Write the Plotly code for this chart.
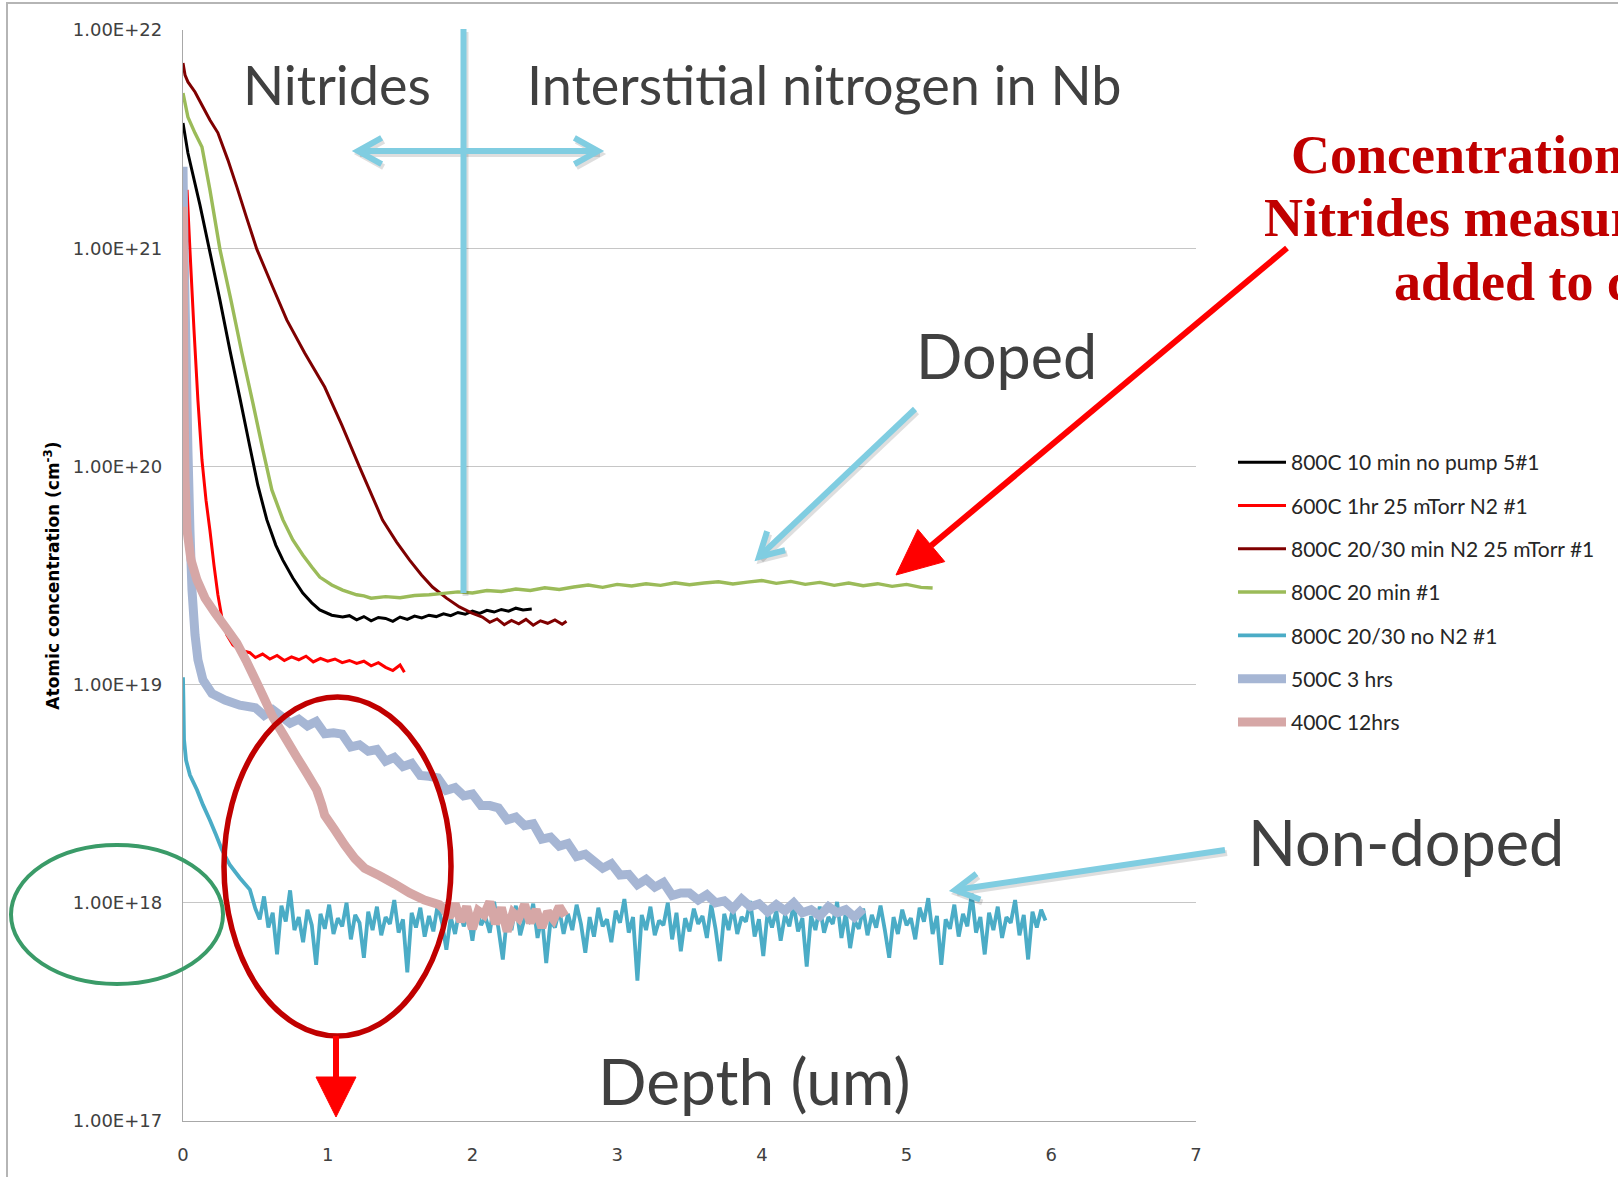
import math
import plotly.graph_objects as go

# ---------------- data (depth in um, atomic concentration in cm^-3) ----------------
black_x = [0.000, 0.034, 0.117, 0.186, 0.255, 0.324, 0.393, 0.462, 0.517, 0.579,
           0.641, 0.690, 0.759, 0.828, 0.890, 0.945, 1.028, 1.103,
           1.15, 1.20, 1.25, 1.30, 1.35, 1.40, 1.45, 1.50, 1.55, 1.60, 1.65, 1.70, 1.75,
           1.80, 1.85, 1.90, 1.95, 2.00, 2.05, 2.10, 2.15, 2.20, 2.25, 2.30, 2.35, 2.41]
black_y = [3.75e21, 2.73e21, 1.58e21, 9.6e20, 5.8e20, 3.41e20, 2.06e20, 1.23e20, 8.2e19, 5.7e19,
           4.36e19, 3.72e19, 3.08e19, 2.63e19, 2.37e19, 2.20e19, 2.08e19, 2.04e19,
           2.07e19, 1.98e19, 2.05e19, 1.96e19, 2.03e19, 2.01e19, 1.95e19, 2.04e19, 1.99e19, 2.06e19,
           2.02e19, 2.08e19, 2.05e19, 2.11e19, 2.07e19, 2.14e19, 2.10e19, 2.17e19, 2.12e19, 2.19e19,
           2.15e19, 2.21e19, 2.17e19, 2.24e19, 2.20e19, 2.22e19]

red_x = [0.028, 0.048, 0.076, 0.103, 0.131, 0.159, 0.186, 0.214, 0.241, 0.269, 0.303, 0.345,
         0.393, 0.462, 0.50, 0.55, 0.60, 0.65, 0.70, 0.75, 0.80, 0.85, 0.90, 0.95, 1.00, 1.05,
         1.10, 1.15, 1.20, 1.25, 1.30, 1.35, 1.40, 1.45, 1.50, 1.53]
red_y = [1.85e21, 9.8e20, 4.22e20, 2.01e20, 1.07e20, 7.0e19, 5.1e19, 3.53e19, 2.58e19, 2.02e19,
         1.69e19, 1.52e19, 1.44e19, 1.40e19, 1.33e19, 1.38e19, 1.31e19, 1.36e19, 1.29e19, 1.34e19,
         1.30e19, 1.35e19, 1.27e19, 1.32e19, 1.28e19, 1.31e19, 1.26e19, 1.29e19, 1.25e19, 1.28e19,
         1.22e19, 1.26e19, 1.20e19, 1.16e19, 1.23e19, 1.14e19]

darkred_x = [0.000, 0.014, 0.034, 0.083, 0.138, 0.186, 0.241, 0.310, 0.372, 0.441,
             0.510, 0.614, 0.717, 0.841, 0.979, 1.097, 1.221, 1.379, 1.476, 1.566,
             1.648, 1.724, 1.821, 1.910, 1.993, 2.069,
             2.12, 2.17, 2.22, 2.27, 2.32, 2.37, 2.42, 2.47, 2.52, 2.57, 2.62, 2.65]
darkred_y = [7.06e21, 6.22e21, 5.78e21, 5.20e21, 4.44e21, 3.87e21, 3.38e21, 2.54e21, 1.91e21, 1.37e21,
             9.9e20, 6.78e20, 4.69e20, 3.31e20, 2.31e20, 1.55e20, 9.9e19, 5.68e19, 4.50e19, 3.72e19,
             3.18e19, 2.80e19, 2.49e19, 2.27e19, 2.13e19, 2.04e19,
             1.93e19, 2.00e19, 1.88e19, 1.97e19, 1.90e19, 1.99e19, 1.87e19, 1.96e19, 1.91e19,
             1.98e19, 1.89e19, 1.95e19]

green_x = [0.000, 0.034, 0.083, 0.131, 0.186, 0.255, 0.331, 0.407, 0.483, 0.552,
           0.614, 0.690, 0.759, 0.828, 0.890, 0.945, 1.028, 1.103, 1.200,
           1.25, 1.30, 1.40, 1.50, 1.60, 1.70, 1.80, 1.90, 2.00, 2.10, 2.20, 2.30, 2.40,
           2.50, 2.60, 2.70, 2.80, 2.90, 3.00, 3.10, 3.20, 3.30, 3.40, 3.50, 3.60, 3.70,
           3.80, 3.90, 4.00, 4.10, 4.20, 4.30, 4.40, 4.50, 4.60, 4.70, 4.80, 4.90, 5.00,
           5.10, 5.18]
green_y = [5.14e21, 3.99e21, 3.37e21, 2.91e21, 1.85e21, 9.9e20, 5.8e20, 3.31e20, 1.95e20, 1.19e20,
           7.8e19, 5.7e19, 4.60e19, 3.93e19, 3.46e19, 3.11e19, 2.86e19, 2.71e19, 2.58e19,
           2.55e19, 2.49e19, 2.53e19, 2.50e19, 2.56e19, 2.58e19, 2.62e19, 2.66e19, 2.63e19,
           2.70e19, 2.67e19, 2.74e19, 2.70e19, 2.78e19, 2.73e19, 2.80e19, 2.86e19, 2.79e19,
           2.88e19, 2.83e19, 2.90e19, 2.85e19, 2.93e19, 2.87e19, 2.92e19, 2.96e19, 2.89e19,
           2.95e19, 3.00e19, 2.91e19, 2.97e19, 2.88e19, 2.94e19, 2.85e19, 2.92e19, 2.84e19,
           2.90e19, 2.82e19, 2.88e19, 2.79e19, 2.77e19]

# 800C 20/30 no N2: steep near-surface part, then the noisy background (values in 1e17 cm^-3)
teal_head_x = [0.000, 0.003, 0.007, 0.021, 0.048, 0.097, 0.138, 0.186, 0.228, 0.269, 0.324, 0.393, 0.462]
teal_head_y = [1.08e19, 8.5e18, 5.6e18, 4.5e18, 3.85e18, 3.29e18, 2.81e18, 2.39e18, 2.05e18, 1.75e18,
               1.49e18, 1.30e18, 1.15e18]
teal_tail_x = [0.50, 0.53, 0.56, 0.59, 0.62, 0.65, 0.68, 0.71, 0.74, 0.77,
               0.80, 0.83, 0.86, 0.89, 0.92, 0.95, 0.98, 1.01, 1.04, 1.07,
               1.10, 1.13, 1.16, 1.19, 1.22, 1.25, 1.28, 1.31, 1.34, 1.37,
               1.40, 1.43, 1.46, 1.49, 1.52, 1.55, 1.58, 1.61, 1.64, 1.67,
               1.70, 1.73, 1.76, 1.79, 1.82, 1.85, 1.88, 1.91, 1.94, 1.97,
               2.00, 2.03, 2.06, 2.09, 2.12, 2.15, 2.18, 2.21, 2.24, 2.27,
               2.30, 2.33, 2.36, 2.39, 2.42, 2.45, 2.48, 2.51, 2.54, 2.57,
               2.60, 2.63, 2.66, 2.69, 2.72, 2.75, 2.78, 2.81, 2.84, 2.87,
               2.90, 2.93, 2.96, 2.99, 3.02, 3.05, 3.08, 3.11, 3.14, 3.17,
               3.20, 3.23, 3.26, 3.29, 3.32, 3.35, 3.38, 3.41, 3.44, 3.47,
               3.50, 3.53, 3.56, 3.59, 3.62, 3.65, 3.68, 3.71, 3.74, 3.77,
               3.80, 3.83, 3.86, 3.89, 3.92, 3.95, 3.98, 4.01, 4.04, 4.07,
               4.10, 4.13, 4.16, 4.19, 4.22, 4.25, 4.28, 4.31, 4.34, 4.37,
               4.40, 4.43, 4.46, 4.49, 4.52, 4.55, 4.58, 4.61, 4.64, 4.67,
               4.70, 4.73, 4.76, 4.79, 4.82, 4.85, 4.88, 4.91, 4.94, 4.97,
               5.00, 5.03, 5.06, 5.09, 5.12, 5.15, 5.18, 5.21, 5.24, 5.27,
               5.30, 5.33, 5.36, 5.39, 5.42, 5.45, 5.48, 5.51, 5.54, 5.57,
               5.60, 5.63, 5.66, 5.69, 5.72, 5.75, 5.78, 5.81, 5.84, 5.87,
               5.90, 5.93, 5.96]
teal_tail_e17 = [9.4, 8.4, 10.7, 7.7, 9.0, 5.8, 9.7, 8.2, 11.4, 7.5,
                 8.6, 6.6, 9.3, 7.9, 5.2, 8.9, 7.6, 9.8, 7.2, 8.5,
                 7.8, 10.0, 6.8, 8.8, 8.1, 5.6, 9.1, 7.5, 9.6, 7.1,
                 8.6, 8.0, 10.3, 7.3, 8.4, 4.8, 9.0, 7.7, 9.5, 7.0,
                 8.7, 7.4, 9.8, 8.1, 6.1, 8.6, 7.2, 9.3, 7.8, 8.9,
                 6.7, 9.4, 7.9, 8.6, 7.3, 10.1, 7.6, 5.5, 8.8, 7.5,
                 9.7, 7.1, 8.5, 8.2, 9.9, 6.9, 8.7, 5.3, 8.3, 7.7,
                 9.3, 7.2, 8.9, 7.5, 9.8, 8.0, 5.9, 8.6, 7.0, 9.5,
                 7.8, 8.4, 6.6, 9.2, 8.1, 10.4, 7.3, 8.6, 4.4, 8.8,
                 7.5, 9.6, 7.1, 8.3, 7.9, 10.0, 6.8, 9.0, 6.0, 8.5,
                 7.4, 9.4, 8.0, 8.7, 6.9, 9.8, 7.6, 5.4, 8.9, 7.5,
                 9.5, 7.2, 8.6, 8.2, 10.2, 7.0, 8.4, 5.7, 9.1, 7.7,
                 9.2, 6.7, 8.8, 7.8, 9.8, 7.4, 8.5, 5.1, 8.7, 7.5,
                 9.6, 7.3, 8.6, 8.0, 10.1, 6.9, 9.0, 6.2, 8.3, 7.6,
                 9.4, 7.1, 8.8, 7.7, 9.7, 7.5, 5.6, 8.6, 7.2, 9.3,
                 7.9, 8.5, 6.8, 9.5, 8.2, 10.5, 7.2, 8.7, 5.2, 8.4,
                 7.6, 9.8, 7.0, 8.9, 7.8, 11.0, 7.3, 8.6, 5.8, 9.0,
                 7.5, 9.6, 6.9, 8.6, 8.1, 10.3, 7.1, 8.8, 5.5, 9.1,
                 7.7, 9.3, 8.3]

blue_x = [0.000, 0.007, 0.021, 0.034, 0.048, 0.062, 0.083, 0.103, 0.138, 0.200, 0.290, 0.393,
          0.50, 0.56, 0.62, 0.68, 0.74, 0.80, 0.86, 0.92, 0.98, 1.04, 1.10, 1.16, 1.22, 1.28,
          1.34, 1.40, 1.46, 1.52, 1.58, 1.64, 1.70, 1.76, 1.82, 1.88, 1.94, 2.00, 2.06, 2.12,
          2.18, 2.24, 2.30, 2.36, 2.42, 2.48, 2.54, 2.60, 2.66, 2.72, 2.78, 2.84, 2.90, 2.96,
          3.02, 3.08, 3.14, 3.20, 3.26, 3.32, 3.38, 3.44, 3.50, 3.56, 3.62, 3.68, 3.74, 3.80,
          3.86, 3.92, 3.98, 4.04, 4.10, 4.16, 4.22, 4.28, 4.34, 4.40, 4.46, 4.52, 4.58, 4.64, 4.70]
blue_y = [2.36e21, 9.8e20, 3.41e20, 1.19e20, 5.1e19, 2.72e19, 1.69e19, 1.30e19, 1.05e19, 9.1e18,
          8.5e18, 8.05e18,
          7.83e18, 7.23e18, 7.67e18, 7.15e18, 6.65e18, 6.94e18, 6.47e18, 6.78e18, 5.95e18, 6.01e18,
          5.93e18, 5.18e18, 5.30e18, 4.95e18, 5.04e18, 4.46e18, 4.64e18, 4.21e18, 4.35e18, 3.83e18,
          3.80e18, 3.74e18, 3.28e18, 3.37e18, 3.09e18, 3.15e18, 2.79e18, 2.79e18, 2.72e18, 2.40e18,
          2.47e18, 2.26e18, 2.30e18, 1.96e18, 2.00e18, 1.82e18, 1.87e18, 1.63e18, 1.67e18, 1.55e18,
          1.44e18, 1.51e18, 1.34e18, 1.35e18, 1.21e18, 1.28e18, 1.18e18, 1.24e18, 1.08e18, 1.11e18,
          1.11e18, 1.03e18, 1.09e18, 1.00e18, 1.02e18, 9.4e17, 1.04e18, 9.6e17, 9.9e17, 9.1e17,
          9.8e17, 9.2e17, 1.00e18, 9.0e17, 9.3e17, 8.7e17, 9.6e17, 9.0e17, 9.3e17, 8.6e17, 9.4e17]

pink_x = [0.000, 0.003, 0.007, 0.014, 0.028, 0.055, 0.097, 0.152, 0.221, 0.297,
          0.372, 0.441, 0.510, 0.566, 0.621, 0.703, 0.786, 0.855, 0.924, 0.959,
          0.979, 1.048, 1.117, 1.186, 1.255, 1.359, 1.462, 1.566, 1.669, 1.772,
          1.80, 1.84, 1.88, 1.92, 1.96, 2.00, 2.04, 2.08, 2.12, 2.16, 2.20, 2.24,
          2.28, 2.32, 2.36, 2.40, 2.44, 2.48, 2.52, 2.56, 2.60, 2.64]
pink_y = [1.55e21, 5.8e20, 2.01e20, 8.7e19, 5.1e19, 3.73e19, 3.01e19, 2.49e19, 2.13e19, 1.82e19,
          1.55e19, 1.27e19, 1.02e19, 8.5e18, 7.1e18, 5.76e18, 4.66e18, 3.93e18, 3.29e18, 2.81e18,
          2.52e18, 2.16e18, 1.84e18, 1.60e18, 1.44e18, 1.33e18, 1.22e18, 1.11e18, 1.03e18, 9.8e17,
          9.4e17, 8.6e17, 9.9e17, 8.2e17, 9.6e17, 7.6e17, 9.2e17, 8.8e17, 1.01e18, 8.0e17,
          9.5e17, 7.4e17, 9.0e17, 8.5e17, 9.8e17, 8.1e17, 9.3e17, 7.7e17, 9.1e17, 8.4e17,
          9.6e17, 8.7e17]

series_names = ["800C 10 min no pump 5#1", "600C 1hr 25 mTorr N2 #1",
                "800C 20/30 min N2 25 mTorr #1", "800C 20 min #1",
                "800C 20/30 no N2 #1", "500C 3 hrs", "400C 12hrs"]

y_tick_vals = [1e17, 1e18, 1e19, 1e20, 1e21, 1e22]
y_tick_text = ["1.00E+17", "1.00E+18", "1.00E+19", "1.00E+20", "1.00E+21", "1.00E+22"]
x_tick_vals = [0, 1, 2, 3, 4, 5, 6, 7]

teal_x = teal_head_x + teal_tail_x
teal_y = teal_head_y + [v * 1e17 for v in teal_tail_e17]

# ---------------- styling ----------------
W, H = 1618, 1177
ML, MR, MT, MB = 183, 422, 30, 56
PW, PH = W - ML - MR, H - MT - MB


def px(x):
    return (x - ML) / PW


def py(y):
    return (MT + PH - y) / PH


styles = [("#000000", 3), ("#ff0000", 3), ("#7f0000", 3), ("#9bbb59", 3.4),
          ("#4bacc6", 3.8), ("#a6b6d4", 9), ("#d6a7a6", 9)]
data = [(black_x, black_y), (red_x, red_y), (darkred_x, darkred_y), (green_x, green_y),
        (teal_x, teal_y), (blue_x, blue_y), (pink_x, pink_y)]

fig = go.Figure()
for name, (xs, ys), (col, w) in zip(series_names, data, styles):
    fig.add_trace(go.Scatter(x=xs, y=ys, mode="lines", name=name, legendgroup=name,
                             line=dict(color=col, width=w, simplify=False)))

LB = "#80cde1"
SH = "rgba(0,0,0,0.13)"
RED = "#ff0000"


def path_d(points, closed=False):
    d = "M " + " L ".join(f"{px(x):.5f},{py(y):.5f}" for x, y in points)
    return d + (" Z" if closed else "")


def pline(points, color, width, closed=False, fill=None):
    return dict(type="path", xref="paper", yref="paper", path=path_d(points, closed),
                line=dict(color=color, width=width),
                fillcolor=fill if fill else "rgba(0,0,0,0)", layer="above")


def unit(a, b):
    dx, dy = b[0] - a[0], b[1] - a[1]
    L = math.hypot(dx, dy)
    return dx / L, dy / L


def chevron(tip, tail, length=27, half_angle=29):
    ux, uy = unit(tip, tail)
    pts = []
    for s in (1, -1):
        a = math.radians(half_angle * s)
        rx = ux * math.cos(a) - uy * math.sin(a)
        ry = ux * math.sin(a) + uy * math.cos(a)
        pts.append((tip[0] + rx * length, tip[1] + ry * length))
    return [pts[0], tip, pts[1]]


def tri(tip, tail, length, half_w):
    ux, uy = unit(tip, tail)
    bx, by = tip[0] + ux * length, tip[1] + uy * length
    nx, ny = -uy, ux
    return [tip, (bx + nx * half_w, by + ny * half_w), (bx - nx * half_w, by - ny * half_w)], (bx, by)


def offset(points, dx=2, dy=3):
    return [(x + dx, y + dy) for x, y in points]


shapes = []
# outer frame of the chart box
shapes.append(pline([(7, 1180), (7, 3), (1625, 3)], "#b5b5b5", 2))

# light-blue annotation arrows (with soft shadow)
light_paths = [
    [(463.5, 29), (463.5, 593)],
    [(358, 151), (598, 151)],
    chevron((358, 151), (598, 151)),
    chevron((598, 151), (358, 151)),
    [(915, 409), (759, 557)],
    chevron((759, 557), (915, 409)),
    [(1225, 850), (955, 890)],
    chevron((955, 890), (1225, 850)),
]
for p in light_paths:
    shapes.append(pline(offset(p), SH, 6))
for p in light_paths:
    shapes.append(pline(p, LB, 6))

# red arrow pointing to the doped curve
head, base = tri((896, 575), (1287, 248), 46, 21)
shapes.append(pline([(1287, 248), base], RED, 6))
shapes.append(pline(head, RED, 1, closed=True, fill=RED))

# ellipses
shapes.append(dict(type="circle", xref="paper", yref="paper", x0=px(11), x1=px(223),
                   y0=py(984), y1=py(845), line=dict(color="#3a9b68", width=4), layer="above"))
shapes.append(dict(type="circle", xref="paper", yref="paper", x0=px(224), x1=px(451),
                   y0=py(1036), y1=py(697), line=dict(color="#c00000", width=5.5), layer="above"))

# red down arrow below ellipse
head2, base2 = tri((336, 1117), (336, 1036), 40, 20)
shapes.append(pline([(336, 1036), base2], RED, 6))
shapes.append(pline(head2, RED, 1, closed=True, fill=RED))

TXT = "#404040"
annotations = []


def label(text, x, y, size, color=TXT, family="Lato", xanchor="center", bold=False):
    annotations.append(dict(text=(f"<b>{text}</b>" if bold else text), x=px(x), y=py(y),
                            xref="paper", yref="paper", xanchor=xanchor, yanchor="middle",
                            showarrow=False, font=dict(family=family, size=size, color=color)))


label("Nitrides", 337, 84, 54)
label("Interstitial nitrogen in Nb", 824, 84, 54)
label("Doped", 1006, 355, 61)
label("Non-doped", 1406, 841, 63)
label("Depth (um)", 754, 1080, 64)
RT = "#c00000"
SERIF = "Liberation Serif, Times New Roman, serif"
label("Concentration of N in", 1289, 155, 54, RT, SERIF, "left", True)
label("Nitrides measured and", 1262, 218, 54, RT, SERIF, "left", True)
label("added to curves", 1392, 282, 54, RT, SERIF, "left", True)

fig.update_layout(
    width=W, height=H,
    margin=dict(l=ML, r=MR, t=MT, b=MB, pad=0),
    paper_bgcolor="white", plot_bgcolor="white",
    showlegend=True,
    legend=dict(x=px(1233), y=py(442), xanchor="left", yanchor="top",
                font=dict(family="Lato", size=21, color="#262626"),
                itemwidth=48, tracegroupgap=13, traceorder="grouped",
                bgcolor="rgba(0,0,0,0)", borderwidth=0),
    shapes=shapes,
    annotations=annotations,
    xaxis=dict(range=[0, 7], tickvals=x_tick_vals, showgrid=False, zeroline=False,
               showline=True, linecolor="#a8a8a8", linewidth=1.4, ticks="",
               ticklabelstandoff=17,
               tickfont=dict(family="DejaVu Sans", size=18, color=TXT)),
    yaxis=dict(type="log", range=[17, 22], tickvals=y_tick_vals, ticktext=y_tick_text,
               showgrid=True, gridcolor="#c6c6c6", gridwidth=1.4, zeroline=False,
               showline=True, linecolor="#a8a8a8", linewidth=1.4, ticks="",
               ticklabelstandoff=16,
               tickfont=dict(family="DejaVu Sans", size=18, color=TXT),
               title=dict(text="Atomic concentration (cm<sup>-3</sup>)", standoff=8,
                          font=dict(family="DejaVu Sans", size=17, color="#000000",
                                    weight="bold"))),
)

fig.write_html("out.html")
